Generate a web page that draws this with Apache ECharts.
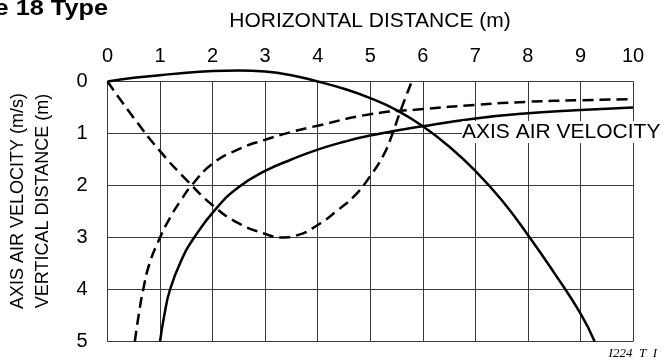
<!DOCTYPE html>
<html>
<head>
<meta charset="utf-8">
<script src="https://cdn.jsdelivr.net/npm/echarts@6/dist/echarts.min.js"></script>
<style>
  html, body { margin: 0; padding: 0; background: #fff; }
  #chart { width: 664px; height: 362px; }
</style>
</head>
<body>
<div id="chart"></div>
<script>
// Horizontal and vertical tick values (m)
const xTicks = [0, 1, 2, 3, 4, 5, 6, 7, 8, 9, 10];
const yTicks = [0, 1, 2, 3, 4, 5];

// Jet trajectory (solid arc): horizontal distance / vertical distance
const trajX = [0, 0.5, 1, 1.5, 2, 2.5, 3, 3.5, 4, 4.5, 5, 5.5, 6, 6.5, 7, 7.5, 8, 8.5, 9, 9.27];
const trajY = [0, -0.07, -0.12, -0.17, -0.2, -0.21, -0.19, -0.12, 0, 0.14, 0.32, 0.55, 0.86, 1.25, 1.72, 2.28, 2.95, 3.68, 4.46, 5];

// Dashed trajectory (dips and returns)
const loopX = [0, 0.5, 1, 1.5, 2, 2.5, 3, 3.3, 3.6, 4, 4.4, 4.7, 5, 5.25, 5.41, 5.57, 5.79];
const loopY = [0, 0.7, 1.34, 1.89, 2.38, 2.73, 2.93, 3.0, 2.96, 2.76, 2.46, 2.2, 1.82, 1.42, 1.04, 0.58, 0];

// Axis air velocity, dashed curve
const velDashX = [0.52, 0.6, 0.68, 0.8, 1, 1.2, 1.4, 1.6, 2, 2.5, 3, 3.5, 4, 5, 6, 7, 8, 9, 10];
const velDashY = [5, 4.45, 4.0, 3.5, 3.0, 2.6, 2.28, 2.0, 1.58, 1.3, 1.12, 0.97, 0.85, 0.63, 0.53, 0.45, 0.39, 0.36, 0.34];

// Axis air velocity, solid curve
const velSolidX = [1.0, 1.08, 1.19, 1.4, 1.65, 2.07, 2.5, 3, 3.5, 4, 4.5, 5, 6, 7, 8, 9, 10];
const velSolidY = [5, 4.5, 4.0, 3.45, 3.0, 2.44, 2.03, 1.72, 1.5, 1.31, 1.16, 1.04, 0.86, 0.71, 0.61, 0.55, 0.5];

const pairs = (xs, ys) => xs.map((x, i) => [x, ys[i]]);

const chart = echarts.init(document.getElementById('chart'), null, { renderer: 'canvas' });

const gridLine = { show: true, lineStyle: { color: '#3a3a3a', width: 1 } };
const labelFont = { color: '#000', fontFamily: 'Liberation Sans, Arial, sans-serif', fontSize: 20 };

const curve = (data, dashed, extra) => Object.assign({
  type: 'line',
  data: data,
  showSymbol: false,
  smooth: 0.5,
  silent: true,
  lineStyle: { color: '#000', width: 2.5, type: dashed ? [11, 6] : 'solid' },
  z: 5
}, extra || {});

chart.setOption({
  animation: false,
  backgroundColor: '#fff',
  grid: { left: 107.5, right: 31, top: 81.5, bottom: 20.5, containLabel: false },
  xAxis: {
    type: 'value',
    position: 'top',
    min: xTicks[0],
    max: xTicks[xTicks.length - 1],
    interval: 1,
    axisLine: { show: true, onZero: false, lineStyle: { color: '#3a3a3a', width: 1 } },
    axisTick: { show: false },
    axisLabel: Object.assign({ margin: 15 }, labelFont),
    splitLine: gridLine
  },
  yAxis: {
    type: 'value',
    inverse: true,
    min: yTicks[0],
    max: yTicks[yTicks.length - 1],
    interval: 1,
    axisLine: { show: true, onZero: false, lineStyle: { color: '#3a3a3a', width: 1 } },
    axisTick: { show: false },
    axisLabel: Object.assign({ margin: 20 }, labelFont),
    splitLine: gridLine
  },
  series: [
    curve(pairs(trajX, trajY), false, { clip: false }),
    curve(pairs(loopX, loopY), true),
    curve(pairs(velDashX, velDashY), true),
    curve(pairs(velSolidX, velSolidY), false)
  ],
  graphic: [
    {
      type: 'text', x: 108, y: 9, scaleX: 1.15, z: 20,
      style: { text: 'Table 18 Type', align: 'right', verticalAlign: 'middle',
               font: 'bold 22px "Liberation Sans", Arial, sans-serif', fill: '#000' }
    },
    {
      type: 'text', x: 370, y: 21, z: 20,
      style: { text: 'HORIZONTAL DISTANCE (m)', align: 'center', verticalAlign: 'middle',
               font: '21px "Liberation Sans", Arial, sans-serif', fill: '#000' }
    },
    {
      type: 'text', x: 31, y: 201, rotation: Math.PI / 2, z: 20,
      style: { text: 'AXIS AIR VELOCITY (m/s)\nVERTICAL DISTANCE (m)', align: 'center', verticalAlign: 'middle',
               lineHeight: 25, font: '18px "Liberation Sans", Arial, sans-serif', fill: '#000' }
    },
    {
      type: 'text', x: 462, y: 132, z: 20,
      style: { text: 'AXIS AIR VELOCITY', align: 'left', verticalAlign: 'middle',
               font: '21px "Liberation Sans", Arial, sans-serif', fill: '#000',
               backgroundColor: '#fff', padding: [1, 0, 0, 0] }
    },
    {
      type: 'text', x: 657, y: 354, z: 20,
      style: { text: 'I224  T  I', align: 'right', verticalAlign: 'middle',
               font: 'italic 13px "Liberation Serif", "Times New Roman", serif', fill: '#000' }
    }
  ]
});
</script>
</body>
</html>
